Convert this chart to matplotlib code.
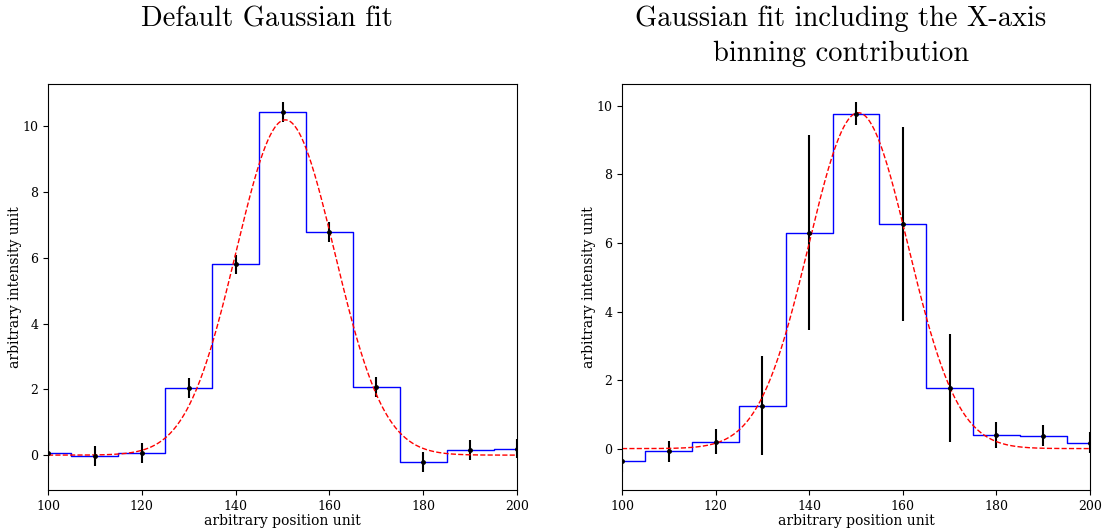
import matplotlib

matplotlib.use("Agg")
import matplotlib.pyplot as plt
import numpy as np

# bin centres shared by both panels
positions = [100, 110, 120, 130, 140, 150, 160, 170, 180, 190, 200]

# left panel: default fit
left_values = [0.07, -0.03, 0.06, 2.05, 5.80, 10.43, 6.78, 2.07, -0.20, 0.15, 0.20]
left_errors = [0.30, 0.30, 0.30, 0.30, 0.30, 0.30, 0.30, 0.30, 0.30, 0.30, 0.30]
left_fit = {"amp": 10.2, "mu": 150.6, "sigma": 10.5}

# right panel: fit including x binning contribution
right_values = [-0.37, -0.08, 0.20, 1.25, 6.30, 9.77, 6.55, 1.77, 0.40, 0.38, 0.17]
right_errors = [0.30, 0.30, 0.36, 1.44, 2.84, 0.33, 2.82, 1.58, 0.39, 0.30, 0.30]
right_fit = {"amp": 9.8, "mu": 150.5, "sigma": 10.6}

titles = ["Default Gaussian fit",
          "Gaussian fit including the X-axis\nbinning contribution"]

plt.rcParams.update({"font.family": "DejaVu Serif", "font.size": 9})

W, H = 1102, 528
fig = plt.figure(figsize=(W / 100, H / 100), dpi=100)
ax_l = fig.add_axes([48 / W, 1 - 490 / H, (517 - 48) / W, (490 - 84) / H])
ax_r = fig.add_axes([622 / W, 1 - 490 / H, (1090 - 622) / W, (490 - 84) / H])


def gauss(x, p):
    return p["amp"] * np.exp(-(x - p["mu"]) ** 2 / (2 * p["sigma"] ** 2))


for ax, vals, errs, fit in [(ax_l, left_values, left_errors, left_fit),
                            (ax_r, right_values, right_errors, right_fit)]:
    ax.step(positions, vals, where="mid", color="blue", lw=1)
    ax.errorbar(positions, vals, yerr=errs, fmt=".", color="black",
                ms=5, elinewidth=1.5, capsize=0)
    xs = np.linspace(100, 200, 400)
    ax.plot(xs, gauss(xs, fit), "r--", lw=1)
    ax.set_xlim(100, 200)
    ax.set_xlabel("arbitrary position unit", fontsize=10, labelpad=1)
    ax.set_ylabel("arbitrary intensity unit", fontsize=10, labelpad=0)
    ax.tick_params(labelsize=9)

fig.text(267 / W, 1 - 6 / H, titles[0], ha="center", va="top",
         family="cmr10", fontsize=20.5)
fig.text(841 / W, 1 - 6 / H, titles[1], ha="center", va="top",
         family="cmr10", fontsize=20.5, linespacing=1.38)

fig.savefig("out.png", dpi=100)
